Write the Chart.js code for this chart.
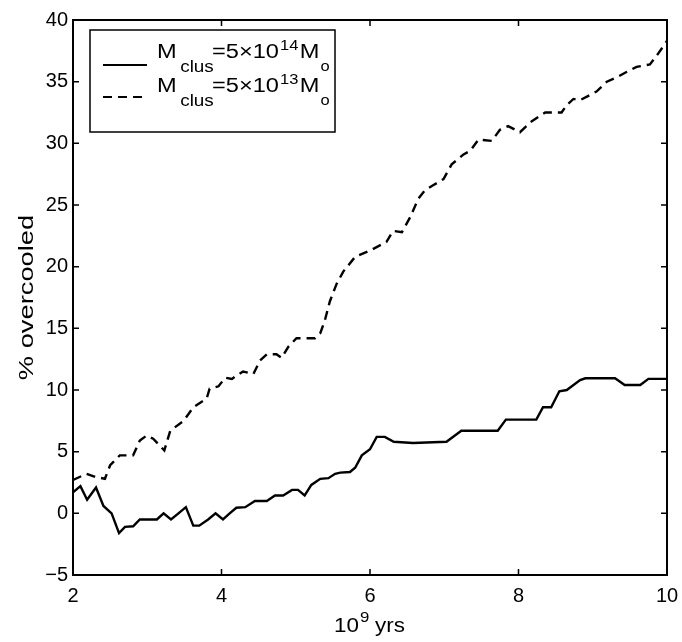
<!DOCTYPE html>
<html>
<head>
<meta charset="utf-8">
<script src="https://cdn.jsdelivr.net/npm/chart.js@4.4.0/dist/chart.umd.min.js"></script>
<style>
  body { margin: 0; background: #fff; }
  #wrap { width: 682px; height: 642px; }
</style>
</head>
<body>
<div id="wrap"><canvas id="chart01"></canvas></div>
<script>
// M_clus = 5x10^14 Mo (solid)
const solidX = [2.0, 2.1, 2.19, 2.31, 2.41, 2.52, 2.62, 2.7, 2.81, 2.9, 3.13, 3.22, 3.32, 3.42, 3.52, 3.62, 3.7, 3.82, 3.92, 4.02,
	4.11, 4.2, 4.32, 4.45, 4.61, 4.72, 4.83, 4.95, 5.03, 5.12, 5.21, 5.33, 5.44, 5.53, 5.6, 5.73, 5.8, 5.89, 6.0, 6.09,
	6.2, 6.32, 6.58, 7.03, 7.23, 7.72, 7.83, 8.24, 8.33, 8.44, 8.55, 8.65, 8.83, 8.9, 9.3, 9.43, 9.64, 9.75, 10.0];
const solidY = [1.7, 2.2, 1.1, 2.1, 0.6, 0.0, -1.6, -1.1, -1.05, -0.5, -0.5, 0, -0.5, 0, 0.5, -1.0, -1.0, -0.5, 0, -0.5,
	0, 0.45, 0.5, 1.0, 1.0, 1.45, 1.45, 1.9, 1.9, 1.45, 2.3, 2.8, 2.85, 3.2, 3.3, 3.35, 3.7, 4.7, 5.2, 6.2,
	6.2, 5.8, 5.7, 5.8, 6.7, 6.7, 7.6, 7.6, 8.6, 8.6, 9.9, 10.0, 10.8, 10.95, 10.95, 10.4, 10.4, 10.9, 10.9];

// M_clus = 5x10^13 Mo (dashed)
const dashX = [2.0, 2.18, 2.3, 2.43, 2.5, 2.63, 2.81, 2.9, 2.99, 3.08, 3.23, 3.31, 3.49, 3.62, 3.8, 3.84, 3.96, 4.05, 4.14, 4.29,
	4.43, 4.52, 4.61, 4.74, 4.81, 4.9, 5.01, 5.26, 5.33, 5.39, 5.46, 5.55, 5.64, 5.8, 6.0, 6.22, 6.31, 6.43, 6.54, 6.65,
	6.74, 6.85, 6.99, 7.1, 7.26, 7.35, 7.46, 7.64, 7.75, 7.86, 8.02, 8.18, 8.36, 8.58, 8.65, 8.74, 8.83, 9.05, 9.19, 9.34,
	9.46, 9.59, 9.77, 9.86, 10.0];
const dashY = [2.7, 3.2, 2.95, 2.8, 3.9, 4.7, 4.7, 5.9, 6.3, 6.05, 5.1, 6.7, 7.5, 8.6, 9.3, 10.1, 10.3, 11.0, 10.9, 11.5,
	11.3, 12.4, 12.9, 12.9, 12.6, 13.5, 14.2, 14.2, 14.6, 15.6, 17.2, 18.6, 19.6, 20.8, 21.3, 22.0, 22.9, 22.8, 24, 25.5,
	26.2, 26.6, 27.1, 28.3, 29.1, 29.4, 30.3, 30.2, 31.1, 31.4, 30.9, 31.8, 32.5, 32.5, 33.1, 33.6, 33.5, 34.2, 35.0, 35.4,
	35.8, 36.2, 36.4, 37.1, 38.3];

const legendRows = [
	{ sup: "14", dash: [] },
	{ sup: "13", dash: [9, 6] },
];

const FONT = "'Liberation Sans', Arial, sans-serif";

const toPoints = (xs, ys) => xs.map((x, i) => ({ x, y: ys[i] }));

// draws text pieces left to right, stretched a little like the scanned original
function drawRun(ctx, x, y, parts, stretch) {
	ctx.save();
	ctx.translate(x, y);
	ctx.scale(stretch, 1);
	let cx = 0;
	parts.forEach((p) => {
		ctx.font = p.size + "px " + FONT;
		if (p.at !== undefined) cx = (p.at - x) / stretch;
		ctx.fillText(p.text, cx, p.dy || 0);
		cx += ctx.measureText(p.text).width + (p.gap || 0);
	});
	ctx.restore();
}

// frame, inward ticks, axis titles and legend box
const decorations = {
	id: "decorations",
	afterDraw(chart) {
		const { ctx, chartArea: a, scales } = chart;
		ctx.save();
		ctx.strokeStyle = "#000";
		ctx.fillStyle = "#000";
		ctx.lineWidth = 2;
		ctx.strokeRect(a.left, a.top, a.right - a.left, a.bottom - a.top);

		const tl = 6;
		ctx.lineWidth = 1.5;
		ctx.beginPath();
		scales.x.ticks.forEach((t) => {
			const px = scales.x.getPixelForValue(t.value);
			ctx.moveTo(px, a.bottom); ctx.lineTo(px, a.bottom - tl);
			ctx.moveTo(px, a.top); ctx.lineTo(px, a.top + tl);
		});
		scales.y.ticks.forEach((t) => {
			const py = scales.y.getPixelForValue(t.value);
			ctx.moveTo(a.left, py); ctx.lineTo(a.left + tl, py);
			ctx.moveTo(a.right, py); ctx.lineTo(a.right - tl, py);
		});
		ctx.stroke();

		ctx.textBaseline = "alphabetic";
		ctx.textAlign = "left";

		// x title: 10^9 yrs
		drawRun(ctx, 334, 632, [
			{ text: "10", size: 20, gap: 1 },
			{ text: "9", size: 15, dy: -10, gap: 5 },
			{ text: "yrs", size: 20 },
		], 1.12);

		// y title
		ctx.save();
		ctx.translate(33, (a.top + a.bottom) / 2);
		ctx.rotate(-Math.PI / 2);
		ctx.scale(1.3, 1);
		ctx.textAlign = "center";
		ctx.font = "21px " + FONT;
		ctx.fillText("% overcooled", 0, 0);
		ctx.restore();

		// legend
		ctx.fillStyle = "#fff";
		ctx.fillRect(90, 30, 245, 102);
		ctx.lineWidth = 1.5;
		ctx.strokeRect(90, 30, 245, 102);
		ctx.fillStyle = "#000";
		legendRows.forEach((row, i) => {
			const ly = 65 + i * 32;
			ctx.save();
			ctx.lineWidth = 2.2;
			ctx.setLineDash(row.dash);
			ctx.beginPath();
			ctx.moveTo(103, ly);
			ctx.lineTo(147, ly);
			ctx.stroke();
			ctx.restore();

			const base = 58 + i * 34;
			drawRun(ctx, 157, base, [
				{ text: "M", size: 20, gap: 3 },
				{ text: "clus", size: 16, dy: 14 },
				{ text: "=5\u00d710", size: 20, at: 212, gap: 1 },
				{ text: row.sup, size: 14, dy: -8, gap: 1 },
				{ text: "M", size: 20, gap: 1 },
				{ text: "o", size: 14, dy: 13 },
			], 1.18);
		});
		ctx.restore();
	},
};

const data = {
	datasets: [
		{
			data: toPoints(solidX, solidY),
			borderColor: "#000",
			borderWidth: 2.4,
			pointRadius: 0,
			tension: 0,
		},
		{
			data: toPoints(dashX, dashY),
			borderColor: "#000",
			borderWidth: 2.4,
			borderDash: [9, 6],
			pointRadius: 0,
			tension: 0,
		},
	],
};

const options = {
	responsive: true,
	maintainAspectRatio: false,
	animation: false,
	layout: {
		padding: { left: 0, right: 15, top: 20, bottom: 0 },
	},
	plugins: {
		legend: { display: false },
		tooltip: { enabled: false },
	},
	scales: {
		x: {
			type: "linear",
			min: 2,
			max: 10,
			grid: { display: false, drawTicks: false },
			border: { display: false },
			ticks: {
				stepSize: 2,
				padding: 9,
				color: "#000",
				font: { family: FONT, size: 20 },
				maxRotation: 0,
			},
			afterFit: (s) => {
				s.height = 67;
				s.paddingLeft = 0;
				s.paddingRight = 0;
			},
		},
		y: {
			min: -5,
			max: 40,
			grid: { display: false, drawTicks: false },
			border: { display: false },
			ticks: {
				stepSize: 5,
				padding: 5,
				color: "#000",
				font: { family: FONT, size: 20 },
				callback: (v) => String(v).replace("-", "\u2212"),
			},
			afterFit: (s) => {
				s.width = 73;
				s.paddingTop = 0;
				s.paddingBottom = 0;
			},
		},
	},
};

new Chart(document.querySelector("#chart01"), {
	type: "line",
	data,
	options,
	plugins: [decorations],
});
</script>
</body>
</html>
